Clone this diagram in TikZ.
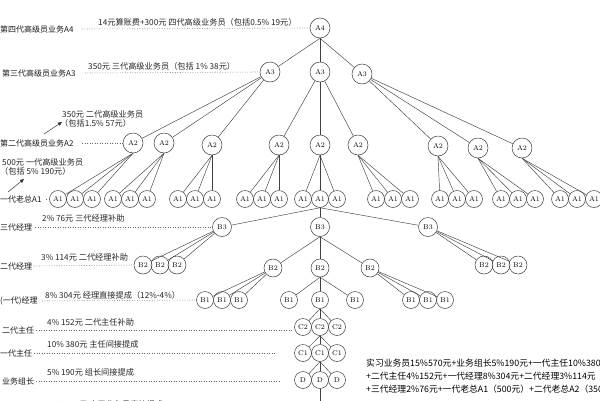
\documentclass[tikz,border=0pt]{standalone}
\usepackage{fontspec}
\newfontfamily\cjk{Noto Sans CJK SC}
\usetikzlibrary{arrows.meta}
\tikzset{
 nd/.style={circle,draw=black!75,line width=0.5pt,inner sep=0pt,minimum size=#1,font=\fontsize{7}{7}\selectfont},
 nd/.default=17pt,
 ln/.style={draw=black!75,line width=0.45pt},
 dt/.style={draw=black!60,line width=0.6pt,dash pattern=on 0.7pt off 1.8pt},
 lab/.style={anchor=west,inner sep=0pt,font=\cjk\fontsize{8.2}{9}\selectfont,text=black!85},
 side/.style={anchor=west,inner sep=0pt,font=\cjk\fontsize{8}{9}\selectfont,text=black!90},
 ar/.style={draw=black!80,line width=0.5pt,-{Triangle[length=4pt,width=3.5pt]}}
}
\begin{document}
\begin{tikzpicture}[x=1pt,y=-1pt]
\useasboundingbox (0,0) rectangle (600,400);
\fill[white] (0,0) rectangle (600,400);
% ---------- A level ----------
\node[nd=20pt] (A4) at (320,28) {A4};
\node[nd=20pt] (A3a) at (270,72) {A3};
\node[nd=20pt] (A3b) at (320,72) {A3};
\node[nd=20pt] (A3c) at (362,74) {A3};
\foreach \n/\x/\y in {a1/133/143,a2/164/143,a3/212/145,b1/279/145,b2/320/145,b3/358/145,c1/438/146,c2/478/148,c3/522/148}
  \node[nd=20pt] (A2\n) at (\x,\y) {A2};
\foreach \g/\c in {1/75,2/130,3/195,4/262,5/320,6/393,7/457,8/518,9/577}
  \foreach \k/\dx in {1/-17,2/0,3/17}
    \node[nd] (A1-\g-\k) at ({\c+(\dx)},199) {A1};
\foreach \c in {A3a,A3b,A3c} \draw[ln] (A4.south) -- (\c);
\foreach \c in {a1,a2,a3} \draw[ln] (A3a) -- (A2\c);
\foreach \c in {b1,b2,b3} \draw[ln] (A3b) -- (A2\c);
\foreach \c in {c1,c2,c3} \draw[ln] (A3c) -- (A2\c);
\foreach \p/\g in {a1/1,a2/2,a3/3,b1/4,b2/5,b3/6,c1/7,c2/8,c3/9}
  \foreach \k in {1,2,3} \draw[ln] (A2\p.south) -- (A1-\g-\k);
% ---------- B level ----------
\node[nd=19pt] (B3a) at (222,227) {B3};
\node[nd=19pt] (B3b) at (320,227) {B3};
\node[nd=19pt] (B3c) at (428,227) {B3};
\foreach \c in {B3a,B3b,B3c} \draw[ln] (A1-5-2.south) -- (\c);
\foreach \k/\x in {1/143,2/160,3/177} \node[nd=18pt] (B2a\k) at (\x,265) {B2};
\foreach \k/\x in {1/273,2/320,3/370} \node[nd=18pt] (B2b\k) at (\x,268) {B2};
\foreach \k/\x in {1/484,2/501,3/518} \node[nd=18pt] (B2c\k) at (\x,265) {B2};
\foreach \k in {1,2,3} {
  \draw[ln] (B3a) -- (B2a\k);
  \draw[ln] (B3b.south) -- (B2b\k);
  \draw[ln] (B3c) -- (B2c\k);
}
\foreach \k/\x in {1/205,2/222,3/239} \node[nd] (B1a\k) at (\x,300) {B1};
\foreach \k/\x in {1/289,2/320,3/355} \node[nd] (B1b\k) at (\x,300) {B1};
\foreach \k/\x in {1/411,2/428,3/445} \node[nd] (B1c\k) at (\x,300) {B1};
\foreach \k in {1,2,3} {
  \draw[ln] (B2b1) -- (B1a\k);
  \draw[ln] (B2b2.south) -- (B1b\k);
  \draw[ln] (B2b3) -- (B1c\k);
}
% ---------- C / D level ----------
\foreach \k/\x in {1/303,2/320,3/337} {
  \node[nd] (C2\k) at (\x,327) {C2};
  \node[nd] (C1\k) at (\x,353) {C1};
  \node[nd] (D\k) at (\x,380) {D};
}
\foreach \k in {1,2,3} {
  \draw[ln] (B1b2.south) -- (C2\k);
  \draw[ln] (C22.south) -- (C1\k);
  \draw[ln] (C12.south) -- (D\k);
}
\coordinate (Dend) at (320,406);
\draw[ln] (D2.south) -- (Dend);
% ---------- left labels and dotted guides ----------
\node[side] (L4) at (0,29) {第四代高级员业务A4};
\coordinate (L4e) at (82,29);
\draw[dt] (L4e) -- (A4.west);
\node[lab] (T4) at (98,22) {14元算账费+300元 四代高级业务员（包括0.5\% 19元）};

\node[side] (L3) at (2,73) {第三代高级员业务A3};
\coordinate (L3e) at (85,73);
\draw[dt] (L3e) -- (A3a.west);
\node[lab] (T3) at (88,66) {350元 三代高级业务员（包括 1\% 38元）};

\node[side] (L2) at (0,143) {第二代高级员业务A2};
\coordinate (L2e) at (82,143);
\draw[dt] (L2e) -- (A2a1.west);
\node[lab] (T2a) at (62,114) {350元 二代高级业务员};
\node[lab] (T2b) at (60,123) {（包括1.5\% 57元）};
\coordinate (r2s) at (44,134);
\coordinate (r2e) at (62,122);
\draw[ar] (r2s) -- (r2e);

\node[lab] (T1a) at (2,162) {500元 一代高级业务员};
\node[lab] (T1b) at (0,171) {（包括 5\% 190元）};
\coordinate (r1s) at (8,192);
\coordinate (r1e) at (24,179);
\draw[ar] (r1s) -- (r1e);
\node[side] (L1) at (0,199) {一代老总A1};
\coordinate (L1e) at (46,199);
\draw[dt] (L1e) -- (A1-1-1.west);

\node[side] (LB3) at (0,227) {三代经理};
\coordinate (LB3e) at (35,227);
\draw[dt] (LB3e) -- (B3a.west);
\node[lab] (TB3) at (42,218) {2\% 76元 三代经理补助};

\node[side] (LB2) at (0,266) {二代经理};
\coordinate (LB2e) at (34,266);
\draw[dt] (LB2e) -- (B2a1.west);
\node[lab] (TB2) at (41,257) {3\% 114元 二代经理补助};

\node[side] (LB1) at (0,301) {(一代)经理};
\coordinate (LB1e) at (42,301);
\draw[dt] (LB1e) -- (B1a1.west);
\node[lab] (TB1) at (45,295) {8\% 304元 经理直接提成（12\%-4\%）};

\node[side] (LC2) at (2,330) {二代主任};
\coordinate (LC2s) at (36,330);
\coordinate (LC2e) at (292,330);
\draw[dt] (LC2s) -- (LC2e);
\node[lab] (TC2) at (47,322) {4\% 152元 二代主任补助};

\node[side] (LC1) at (0,353) {一代主任};
\coordinate (LC1s) at (34,353);
\coordinate (LC1e) at (275,353);
\draw[dt] (LC1s) -- (LC1e);
\node[lab] (TC1) at (47,344) {10\% 380元 主任间接提成};

\node[side] (LD) at (2,381) {业务组长};
\coordinate (LDs) at (36,381);
\coordinate (LDe) at (279,381);
\draw[dt] (LDs) -- (LDe);
\node[lab] (TD) at (47,372) {5\% 190元 组长间接提成};

\node[lab] (TS) at (47,404) {15\% 570元 实习业务员直接提成};
% ---------- summary ----------
\node[anchor=north west,align=left,inner sep=0pt,font=\cjk\fontsize{8.8}{13}\selectfont,text=black] (sum) at (366,359)
 {实习业务员15\%570元+业务组长5\%190元+一代主任10\%380元\\
  +二代主任4\%152元+一代经理8\%304元+二代经理3\%114元\\
  +三代经理2\%76元+一代老总A1（500元）+二代老总A2（350元）};
\end{tikzpicture}
\end{document}
